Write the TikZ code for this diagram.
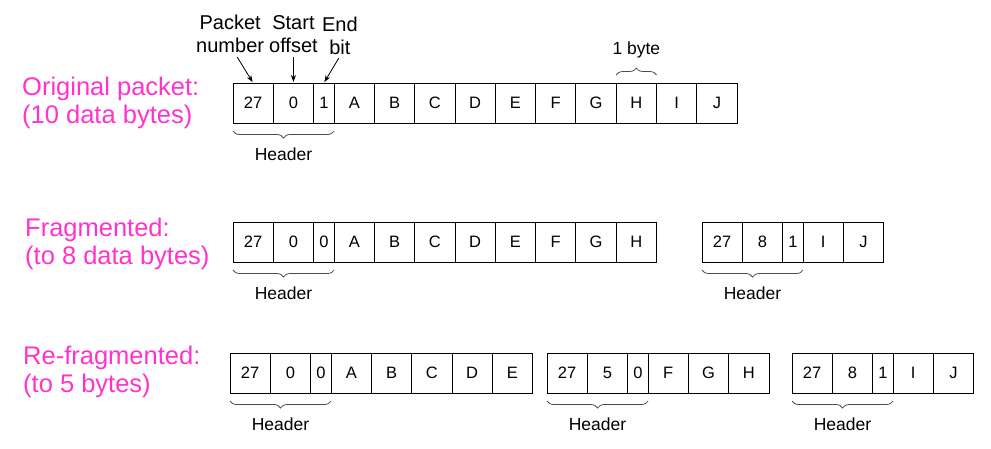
\documentclass[tikz,border=0pt]{standalone}
\usepackage{fontspec}
\setmainfont{Liberation Sans}
\usetikzlibrary{positioning,arrows.meta,decorations.pathreplacing,calc}
\definecolor{labelpink}{RGB}{255,51,204}
% one packet: name, top left corner, number, offset, end bit, data bytes
\newcommand{\fragment}[6]{%
  \node[cell, anchor=north west] (#1-num) at (#2) {#3};
  \node[cell, right=0pt of #1-num] (#1-off) {#4};
  \node[bitcell, right=0pt of #1-off] (#1-bit) {#5};
  \foreach \b [remember=\b as \prev (initially bit)] in {#6}
    \node[cell, right=0pt of #1-\prev] (#1-\b) {\b};
  \draw[hdrbrace] ([yshift=-8pt]#1-num.south west) -- ([yshift=-8pt]#1-bit.south east)
    node[midway, yshift=-23pt, font=\fontsize{17.5}{20}\selectfont] (#1-hdr) {Header};
}

\begin{document}
\begin{tikzpicture}[x=1pt, y=-1pt,
    cell/.style={draw, line width=1pt, minimum width=40.3pt, minimum height=40pt,
      inner sep=0pt, outer sep=0pt, font=\fontsize{16.5}{19}\selectfont},
    bitcell/.style={cell, minimum width=20.5pt},
    hdrbrace/.style={draw=black!70, line width=0.8pt, decorate,
      decoration={brace, mirror, amplitude=7pt}},
    bytebrace/.style={draw=black!70, line width=0.8pt, decorate,
      decoration={brace, amplitude=7pt}},
    toplabel/.style={align=center, inner sep=0pt, font=\fontsize{20}{23}\selectfont},
    rowlabel/.style={align=left, inner sep=0pt, text=labelpink,
      font=\fontsize{25.5}{27.5}\selectfont},
    ptr/.style={-{Stealth[length=7pt, width=5pt]}, line width=0.8pt, shorten >=1pt}]
    \useasboundingbox (0,0) rectangle (991,448);

    % Original packet
    \node[rowlabel, anchor=north west] (orig) at (22,77) {Original packet:\\(10 data bytes)};
    \fragment{o}{233,83}{27}{0}{1}{A,B,C,D,E,F,G,H,I,J}

    % Header fields
    \node[toplabel, anchor=south] (pktnum) at ([xshift=-23pt, yshift=30pt]o-num.north) {Packet\\number};
    \node[toplabel, anchor=south] (startoff) at ([yshift=30pt]o-off.north) {Start\\offset};
    \node[toplabel, anchor=south] (endbit) at ([xshift=16pt, yshift=28pt]o-bit.north) {End\\bit};
    \draw[ptr] ([xshift=7pt, yshift=-4pt]pktnum.south) -- (o-num.north);
    \draw[ptr] ([yshift=-4pt]startoff.south) -- (o-off.north);
    \draw[ptr] ([xshift=-1pt, yshift=-3pt]endbit.south) -- (o-bit.north);

    % One byte
    \draw[bytebrace] ([yshift=8pt]o-H.north west) -- ([yshift=8pt]o-H.north east)
      node[midway, anchor=base, yshift=21pt, font=\fontsize{17.5}{20}\selectfont] (onebyte) {1 byte};

    % Fragmented
    \node[rowlabel, anchor=north west] (frag) at (25,218) {Fragmented:\\(to 8 data bytes)};
    \fragment{fa}{233,222}{27}{0}{0}{A,B,C,D,E,F,G,H}
    \fragment{fb}{702,222}{27}{8}{1}{I,J}

    % Re-fragmented
    \node[rowlabel, anchor=north west] (refrag) at (23,346) {Re-fragmented:\\(to 5 bytes)};
    \fragment{ra}{230,353}{27}{0}{0}{A,B,C,D,E}
    \fragment{rb}{547,353}{27}{5}{0}{F,G,H}
    \fragment{rc}{792,353}{27}{8}{1}{I,J}
\end{tikzpicture}
\end{document}
